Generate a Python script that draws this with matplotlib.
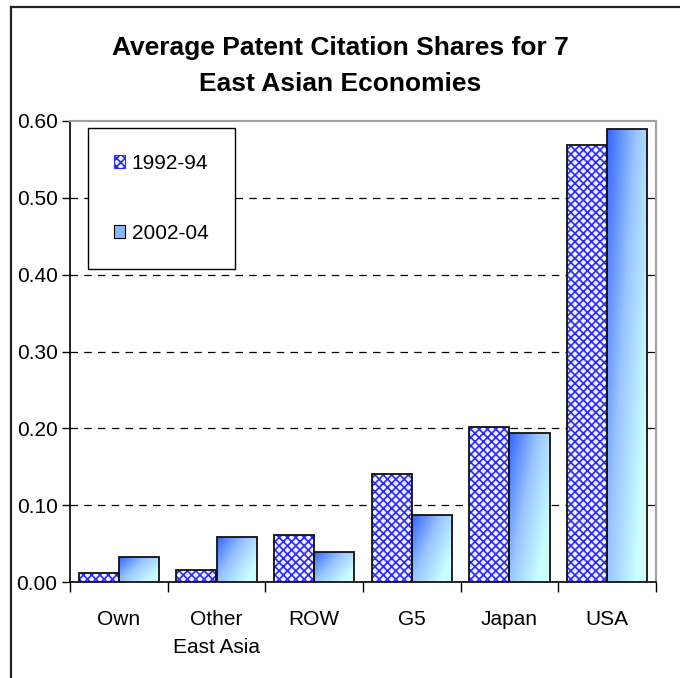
import matplotlib
matplotlib.use("Agg")
import matplotlib.pyplot as plt
import numpy as np
from matplotlib.patches import Rectangle, Patch
from matplotlib.lines import Line2D
from matplotlib.colors import LinearSegmentedColormap

plt.rcParams['font.family'] = ['Liberation Sans', 'DejaVu Sans']

categories = ["Own", "Other\nEast Asia", "ROW", "G5", "Japan", "USA"]
series_names = ["1992-94", "2002-04"]
v1992 = [0.012, 0.016, 0.061, 0.141, 0.202, 0.569]
v2002 = [0.033, 0.059, 0.039, 0.087, 0.194, 0.590]
yticks = [0.0, 0.1, 0.2, 0.3, 0.4, 0.5, 0.6]
title = "Average Patent Citation Shares for 7\nEast Asian Economies"

fig = plt.figure(figsize=(6.8, 6.78), dpi=100)
ax = fig.add_axes([70/680, 1-582/678, 586/680, 461/678])

x = np.arange(len(categories))
w = 0.41

# 1992-94: cross-hatched bars
plt.rcParams['hatch.linewidth'] = 1.2
ax.bar(x - w/2, v1992, w, facecolor='#f0f0ff', edgecolor='#2a2aff',
       hatch='xxxx', linewidth=0, zorder=3)
ax.bar(x - w/2, v1992, w, fill=False, edgecolor='#111111', linewidth=1.3, zorder=4)

# 2002-04: gradient bars
cmap = LinearSegmentedColormap.from_list('g', ['#3366ff', '#99c4ff', '#ccffff'])
b2 = ax.bar(x + w/2, v2002, w, facecolor='none', edgecolor='#111111',
            linewidth=1.3, zorder=4)
gx, gy = np.meshgrid(np.linspace(0, 1, 60), np.linspace(0, 1, 200))
grad = np.clip(0.7*gx + 0.5*gy, 0, 1)
for rect in b2:
    x0, y0 = rect.get_x(), rect.get_y()
    bw, bh = rect.get_width(), rect.get_height()
    im = ax.imshow(grad, cmap=cmap, extent=[x0, x0+bw, y0, y0+bh],
                   origin='upper', aspect='auto', zorder=3, vmin=0, vmax=1)
    clip = Rectangle((x0, y0), bw, bh, transform=ax.transData)
    im.set_clip_path(clip)
ax.set_xlim(-0.5, len(categories)-0.5)
ax.set_ylim(0, 0.6)

# grid
for yv in yticks[1:-1]:
    ax.axhline(yv, color='black', linestyle=(0, (6, 5)), linewidth=0.9, zorder=1)

ax.set_yticks(yticks)
ax.set_yticklabels([f"{t:.2f}" for t in yticks], fontsize=15)
ax.set_xticks(np.arange(len(categories)+1) - 0.5, minor=True)
ax.set_xticks(x)
ax.set_xticklabels(categories, fontsize=15, linespacing=1.55)
ax.tick_params(axis='x', which='major', length=0, pad=20.5)
ax.tick_params(axis='x', which='minor', length=7, width=1, direction='out', color='black')
ax.tick_params(axis='y', length=6, width=1, direction='out', pad=3)

for s in ['left', 'bottom']:
    ax.spines[s].set_color('black')
    ax.spines[s].set_linewidth(1.2)
for s in ['top', 'right']:
    ax.spines[s].set_color('#a0a0a0')
    ax.spines[s].set_linewidth(1.5)

# legend
handles = [Patch(facecolor='#f0f0ff', edgecolor='#2a2aff', hatch='xxxx', linewidth=0.8),
           Patch(facecolor='#88b8ff', edgecolor='black', linewidth=0.8)]
leg = ax.legend(handles, series_names, loc='upper left',
                bbox_to_anchor=((88-70)/586, 1-(128-121)/461), fontsize=15,
                frameon=True, fancybox=False, edgecolor='black', framealpha=1,
                handlelength=0.55, handleheight=0.55, handletextpad=0.3,
                labelspacing=2.45, borderpad=1.25, borderaxespad=0)
leg.get_frame().set_linewidth(1.0)
leg.set_zorder(10)

fig.text(340/680, 1-66/678, title, ha='center', va='center', fontsize=19,
         fontweight='bold', linespacing=1.6)

# chart outer border (left and top)
fig.add_artist(Line2D([10.5/680, 10.5/680], [0, 1-7/678], color='#222222', lw=1.6,
                      transform=fig.transFigure))
fig.add_artist(Line2D([10.5/680, 1], [1-7/678, 1-7/678], color='#222222', lw=1.6,
                      transform=fig.transFigure))

fig.savefig('out.png', dpi=100)
